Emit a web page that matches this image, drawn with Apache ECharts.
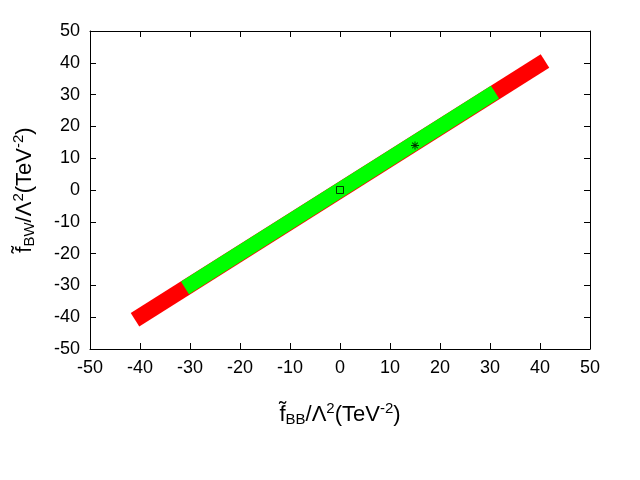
<!DOCTYPE html><html><head><meta charset="utf-8"><script src="https://cdn.jsdelivr.net/npm/echarts@6/dist/echarts.min.js"></script></head><body style="margin:0"><div id="c" style="width:640px;height:480px"></div><script>
const ticks=[-50,-40,-30,-20,-10,0,10,20,30,40,50];
const redBand=[[-41,-40.8],[41,40.6]];
const greenBand=[[-31,-30.8],[31,30.8]];
const squarePt=[[0,0]];
const starPt=[[15,14]];
const c=echarts.init(document.getElementById('c'));
const ax=(pos,show)=>({type:'value',min:-50,max:50,interval:10,position:pos,splitLine:{show:false},
 axisLine:{show:true,onZero:false,lineStyle:{color:'#000'}},axisTick:{inside:true,length:6,lineStyle:{color:'#000'}},
 axisLabel:{show:show,color:'#000',fontSize:18,fontFamily:'Liberation Sans',margin:10}});
const rich={t:{fontSize:22,fontFamily:'Liberation Sans',color:'#000'},s:{fontSize:15,fontFamily:'Liberation Sans',color:'#000',padding:[10,0,0,0]},u:{fontSize:15,fontFamily:'Liberation Sans',color:'#000',padding:[0,0,12,0]}};
const xa=ax('bottom',true);xa.name='{t|f̃}{s|BB}{t|/Λ}{u|2}{t|(TeV}{u|-2}{t|)}';xa.nameLocation='middle';xa.nameGap=52;xa.nameTextStyle={rich};
const ya=ax('left',true);ya.name='{t|f̃}{s|BW}{t|/Λ}{u|2}{t|(TeV}{u|-2}{t|)}';ya.nameLocation='middle';ya.nameGap=52;ya.nameTextStyle={rich};
c.setOption({animation:false,grid:{left:90,right:50,top:31,bottom:131},
xAxis:[xa,ax('top',false)],yAxis:[ya,ax('right',false)],
series:[
{type:'line',data:redBand,symbol:'none',z:2,lineStyle:{color:'#ff0000',width:16,cap:'butt'}},
{type:'line',data:greenBand,symbol:'none',z:3,lineStyle:{color:'#00ff00',width:15,cap:'butt'}},
{type:'scatter',data:squarePt,symbol:'rect',symbolSize:7,z:5,itemStyle:{color:'rgba(0,0,0,0)',borderColor:'#000',borderWidth:1}},
{type:'scatter',data:starPt,z:5,symbol:'path://M-0.6,-5H0.6V5H-0.6ZM-5,-0.6H5V0.6H-5ZM-3.9,-3.1L-3.1,-3.9L3.9,3.1L3.1,3.9ZM3.1,-3.9L3.9,-3.1L-3.1,3.9L-3.9,3.1Z',symbolSize:8,itemStyle:{color:'#000'}}
]});
</script></body></html>
